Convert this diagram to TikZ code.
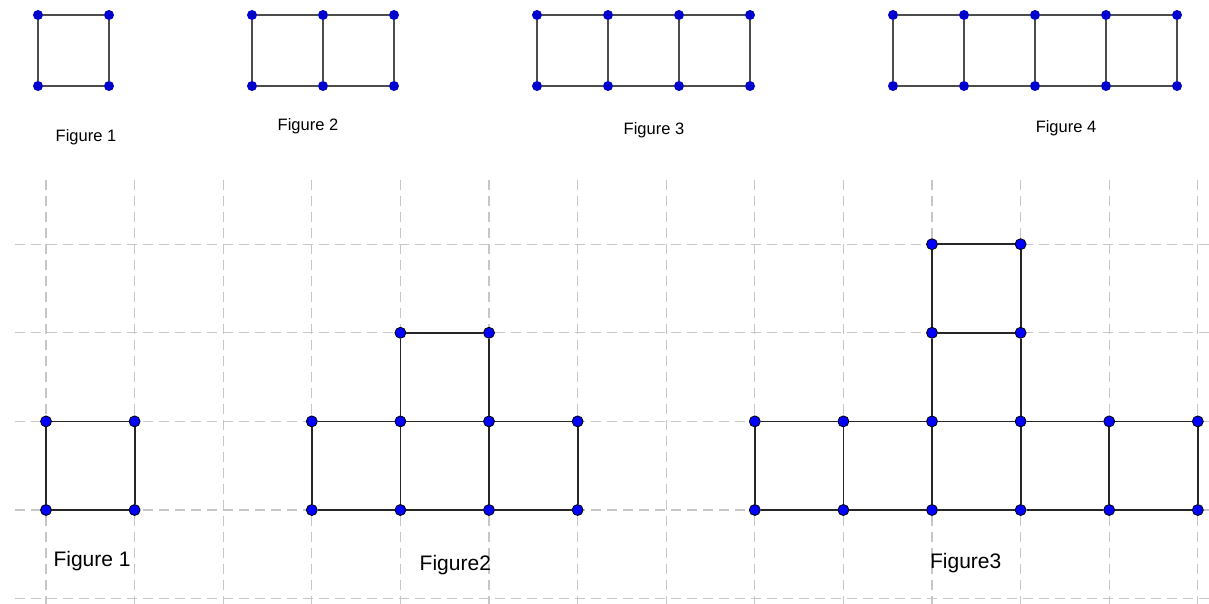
\documentclass[tikz,border=0pt]{standalone}
\usepackage{fontspec}
\setmainfont{Liberation Sans}

\begin{document}
\begin{tikzpicture}[x=1pt, y=-1pt,
    gridline/.style={draw=black!22, line width=1.3pt, dash pattern=on 10pt off 6pt},
    topedge/.style={draw=black!70, line width=2pt},
    edge/.style={draw=black!85, line width=1.8pt},
    topdot/.style={circle, fill=blue!80!black, inner sep=0pt, minimum size=10pt},
    dot/.style={circle, draw=black, fill=blue, line width=0.8pt, inner sep=0pt, minimum size=11pt},
    topcap/.style={font=\fontsize{16.5}{19}\selectfont},
    botcap/.style={font=\fontsize{21}{24}\selectfont}
]
\useasboundingbox (0,0) rectangle (1209,604);

% upper row: ladders of 1 to 4 squares
\foreach \n/\ox/\m in {1/38/1, 2/252/2, 3/537/3, 4/893/4} {
  \begin{scope}[shift={(\ox pt,0pt)}]
    \foreach \k in {0,...,\m} {
      \node[topdot] (t\n-\k-a) at (\k*71,15) {};
      \node[topdot] (t\n-\k-b) at (\k*71,86) {};
      \draw[topedge] (t\n-\k-a) -- (t\n-\k-b);
    }
    \foreach \k [count=\j from 0] in {1,...,\m} {
      \draw[topedge] (t\n-\j-a) -- (t\n-\k-a);
      \draw[topedge] (t\n-\j-b) -- (t\n-\k-b);
    }
  \end{scope}
}
\node[topcap] (cap1) at (86,137)  {Figure 1};
\node[topcap] (cap2) at (308,126) {Figure 2};
\node[topcap] (cap3) at (654,130) {Figure 3};
\node[topcap] (cap4) at (1066,128) {Figure 4};

% lower row on the dashed grid
\begin{scope}[shift={(46pt,-510pt)}, x=88.6pt, y=88.6pt]
  \foreach \i in {0,...,13}
    \draw[gridline] (\i,3.72) -- (\i,-1.07);
  \foreach \j in {-1,...,3}
    \draw[gridline] (-0.35,\j) -- (13.2,\j);

  % Figure 1
  \foreach \i in {0,1} \foreach \j in {0,1}
    \node[dot] (f1-\i-\j) at (\i,\j) {};
  \draw[edge] (f1-0-0) -- (f1-1-0) -- (f1-1-1) -- (f1-0-1) -- (f1-0-0);

  % Figure 2
  \foreach \i in {3,...,6} \foreach \j in {0,1}
    \node[dot] (f2-\i-\j) at (\i,\j) {};
  \foreach \i in {4,5}
    \node[dot] (f2-\i-2) at (\i,2) {};
  \foreach \i in {3,...,6}
    \draw[edge] (f2-\i-0) -- (f2-\i-1);
  \foreach \i [count=\h from 3] in {4,...,6} {
    \draw[edge] (f2-\h-0) -- (f2-\i-0);
    \draw[edge] (f2-\h-1) -- (f2-\i-1);
  }
  \draw[edge] (f2-4-1) -- (f2-4-2) -- (f2-5-2) -- (f2-5-1);

  % Figure 3
  \foreach \i in {8,...,13} \foreach \j in {0,1}
    \node[dot] (f3-\i-\j) at (\i,\j) {};
  \foreach \i in {10,11} \foreach \j in {2,3}
    \node[dot] (f3-\i-\j) at (\i,\j) {};
  \foreach \i in {8,...,13}
    \draw[edge] (f3-\i-0) -- (f3-\i-1);
  \foreach \i [count=\h from 8] in {9,...,13} {
    \draw[edge] (f3-\h-0) -- (f3-\i-0);
    \draw[edge] (f3-\h-1) -- (f3-\i-1);
  }
  \draw[edge] (f3-10-1) -- (f3-10-2) -- (f3-10-3) -- (f3-11-3) -- (f3-11-2) -- (f3-11-1);
  \draw[edge] (f3-10-2) -- (f3-11-2);

  \node[botcap] (fig1) at (0.52,-0.58) {Figure 1};
  \node[botcap] (fig2) at (4.62,-0.62) {Figure2};
  \node[botcap] (fig3) at (10.38,-0.60) {Figure3};
\end{scope}
\end{tikzpicture}
\end{document}
